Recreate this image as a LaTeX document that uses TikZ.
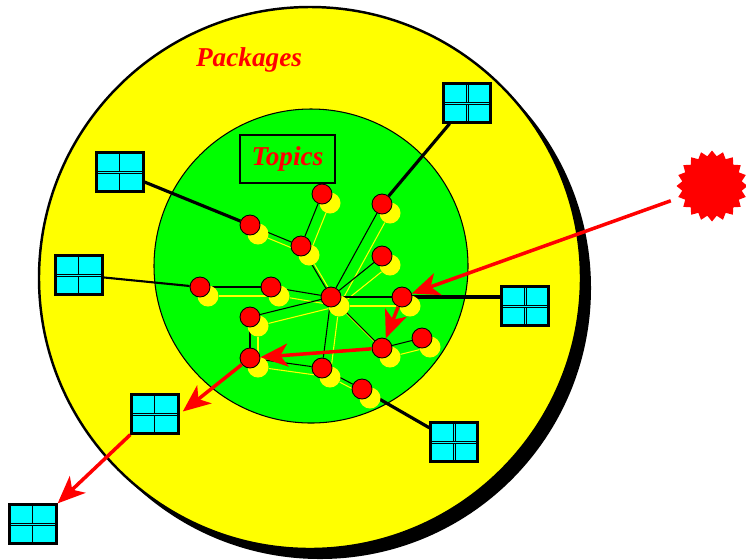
\documentclass[tikz,border=0pt]{standalone}
\usepackage{fontspec}
\setmainfont{Liberation Serif}
\usetikzlibrary{arrows.meta, shapes}
\definecolor{pkgyellow}{RGB}{255,255,0}
\definecolor{topicgreen}{RGB}{0,255,0}
\definecolor{windowcyan}{RGB}{0,255,255}
\definecolor{topicred}{RGB}{255,0,0}
\pgfdeclarelayer{discs}
\pgfdeclarelayer{links}
\pgfsetlayers{discs,links,main}

\begin{document}
\begin{tikzpicture}[x=0.02cm, y=0.02cm]
\tikzstyle{every node}+=[inner sep=0pt]
\tikzstyle{topicdot}=[circle, draw=black, fill=topicred, line width=0.5pt, minimum size=0.4cm]
\tikzstyle{shadedot}=[circle, fill=pkgyellow, minimum size=0.42cm]
\tikzstyle{topiclink}=[black, line width=0.6pt]
\tikzstyle{shadelink}=[pkgyellow, line width=0.6pt]
\tikzstyle{pkglink}=[black, line width=1.8pt]
\tikzstyle{redarrow}=[topicred, line width=2pt, -{Stealth[length=0.55cm, width=0.46cm, inset=0.15cm]}]
\tikzstyle{title}=[text=topicred, font=\bfseries\itshape\fontsize{15.5}{18}\selectfont]
\tikzstyle{window}=[draw=black, line width=1.3pt, fill=windowcyan, minimum width=0.94cm, minimum height=0.78cm,
  path picture={
    \draw [black, line width=0.6pt, double=windowcyan, double distance=0.5pt] (path picture bounding box.north) -- (path picture bounding box.south);
    \draw [black, line width=0.6pt, double=windowcyan, double distance=0.5pt] (path picture bounding box.west) -- (path picture bounding box.east);
  }]
\useasboundingbox (0,0) rectangle (746,-559);
\begin{pgfonlayer}{discs}
\fill [black] (320,-288) circle (271);
\draw [black, line width=1.4pt, fill=pkgyellow] (310,-278) circle (271);
\draw [black, line width=0.6pt, fill=topicgreen] (311,-266) circle (157);
\end{pgfonlayer}
\foreach \n/\x/\y in {1/322/194, 2/382/204, 3/250/225, 4/301/246, 5/382/256, 6/200/287, 7/271/287, 8/331/297,
                      9/402/297, 10/250/317, 11/422/338, 12/382/348, 13/250/358, 14/322/368, 15/362/389}
  \node [shadedot] (s\n) at (\x+8,-\y-9) {};
\foreach \n/\x/\y in {1/322/194, 2/382/204, 3/250/225, 4/301/246, 5/382/256, 6/200/287, 7/271/287, 8/331/297,
                      9/402/297, 10/250/317, 11/422/338, 12/382/348, 13/250/358, 14/322/368, 15/362/389}
  \node [topicdot] (t\n) at (\x,-\y) {};
\foreach \n/\x/\y in {1/467/103, 2/120/172, 3/79/275, 4/525/306, 5/454/442, 6/155/414, 7/33/524}
  \node [window] (w\n) at (\x,-\y) {};
\node [star, star points=20, star point ratio=1.18, fill=topicred, minimum size=1.42cm] (sun) at (712,-186) {};
\node [title] (packages) at (249,-60) {Packages};
\node [title, draw=black, line width=0.6pt, minimum width=1.9cm, minimum height=0.96cm] (topics) at (287.5,-159) {Topics};
\begin{pgfonlayer}{links}
\foreach \a/\b in {1/4, 3/4, 4/8, 2/8, 5/8, 6/7, 7/8, 10/8, 9/8, 8/14, 8/12, 10/13, 13/14, 14/15, 12/11}
  \draw [shadelink] (s\a) -- (s\b);
\foreach \a/\b in {1/4, 3/4, 4/8, 2/8, 5/8, 6/7, 7/8, 10/8, 9/8, 8/14, 8/12, 10/13, 13/14, 14/15, 12/11}
  \draw [topiclink] (t\a) -- (t\b);
\foreach \a/\b in {1/2, 2/3, 5/15}
  \draw [pkglink] (w\a) -- (t\b);
\draw [pkglink, line width=1.2pt] (w3) -- (t6);
\draw [pkglink] (w4.west |- t9) -- (t9);
\end{pgfonlayer}
\draw [redarrow, shorten <=0.18cm] (sun) -- (t9);
\draw [redarrow] (t9) -- (t12);
\draw [redarrow] (t12) -- (t13);
\draw [redarrow, shorten >=0.08cm] (t13) -- (w6.east);
\draw [redarrow] (w6.south west) -- (w7.north east);
\end{tikzpicture}
\end{document}
